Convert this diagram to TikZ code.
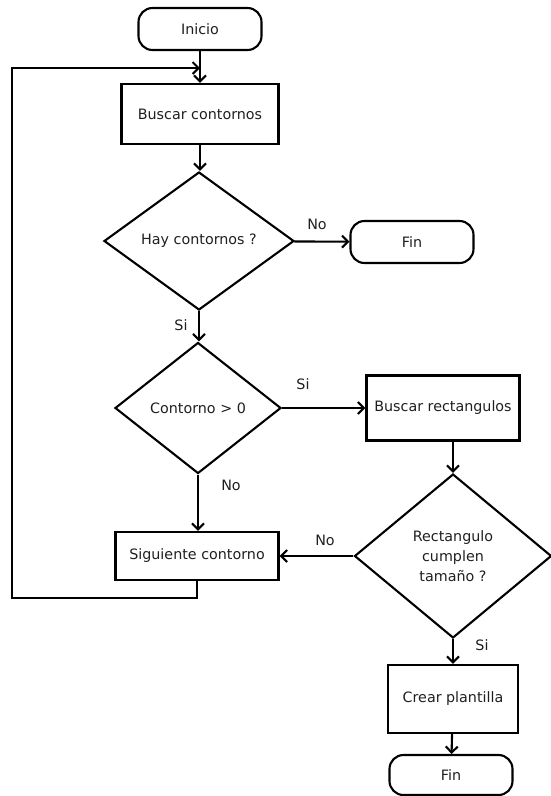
\documentclass[tikz,border=0pt]{standalone}
\usepackage{fontspec}
\setmainfont{DejaVu Sans}
\usetikzlibrary{arrows.meta,positioning,shapes}

\begin{document}
\begin{tikzpicture}[x=1pt,y=-1pt,line width=2.1pt,
  every node/.style={font=\fontsize{14.3}{20}\selectfont,text=black!88},
  term/.style={draw,rounded corners=14pt,minimum width=123pt,minimum height=42pt},
  proc/.style={draw,minimum width=157pt,minimum height=60pt},
  dec/.style={draw,diamond,inner sep=0pt,align=center},
  flow/.style={-{Straight Barb[length=6pt,width=12pt]}}]
\useasboundingbox (0,0) rectangle (550,796);
\node[term] (start) at (200,29) {Inicio};
\node[proc] (buscar) at (200,114) {Buscar contornos};
\node[dec,minimum width=190pt,minimum height=138pt] (hay) at (199,241) {Hay contornos ?};
\node[term] (fin1) at (412,242) {Fin};
\node[dec,minimum width=166pt,minimum height=131pt] (cont) at (198,408) {Contorno > 0};
\node[proc,minimum width=153pt,minimum height=65pt] (rect) at (443,408) {Buscar rectangulos};
\node[dec,minimum width=197pt,minimum height=164pt] (cumple) at (453,556) {Rectangulo\\cumplen\\tamaño ?};
\node[proc,minimum width=163pt,minimum height=48pt] (sig) at (197,556) {Siguiente contorno};
\node[proc,minimum width=130pt,minimum height=68pt] (crear) at (453,699) {Crear plantilla};
\node[term,minimum height=40pt] (fin2) at (451,775) {Fin};
\coordinate (join) at (200,68);
\coordinate (back) at (12,598);
% labels
\node (no1) at (317,224) {No};
\node (si1) at (181,325) {Si};
\node (si2) at (303,384) {Si};
\node (no2) at (231,485) {No};
\node (no3) at (325,540) {No};
\node (si3) at (482,645) {Si};
% connectors
\draw[flow] (start) -- (buscar);
\draw[flow] (buscar) -- (buscar |- hay.north);
\draw[flow] (hay) -- (fin1);
\draw[flow] (hay) -- (hay |- cont.north);
\draw[flow] (cont) -- (rect);
\draw[flow] (cont) -- (cont |- sig.north);
\draw[flow] (rect.south -| cumple.north) -- (cumple.north);
\draw[flow] (cumple) -- (sig);
\draw[flow] (cumple) -- (crear);
\draw[flow] (crear) -- (fin2);
\draw[flow] (sig.south) |- (back) |- (join);
\end{tikzpicture}
\end{document}
